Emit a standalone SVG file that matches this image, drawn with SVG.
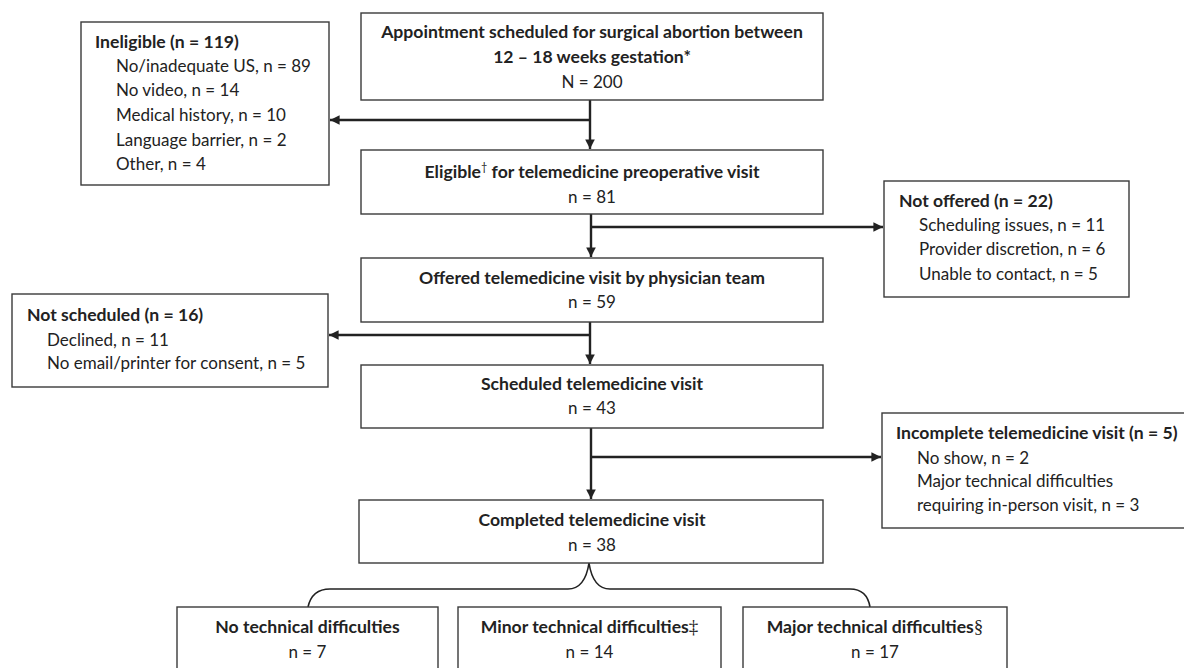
<svg xmlns="http://www.w3.org/2000/svg" width="1184" height="668" viewBox="0 0 1184 668">
<defs>
<style>
.box{fill:#fff;stroke:#3a3a3a;stroke-width:1.4}
.t{font-family:Lato,"Open Sans","Liberation Sans",sans-serif;font-size:17px;fill:#222}
.b{font-weight:bold;font-size:17.6px}
.c{text-anchor:middle}
.con{fill:none;stroke:#222;stroke-width:2.4}
.sym{font-family:"Liberation Serif","DejaVu Serif",serif;font-weight:normal}
</style>
<marker id="ah" viewBox="0 0 10 10" refX="10" refY="5" markerWidth="4" markerHeight="4" orient="auto" markerUnits="strokeWidth">
<path d="M0,0 L10,5 L0,10 z" fill="#222"/>
</marker>
</defs>
<rect width="1184" height="668" fill="#fff"/>
<g id="connectors">
<line class="con" x1="590" y1="100" x2="590" y2="149" marker-end="url(#ah)"/>
<line class="con" x1="590" y1="120" x2="330" y2="120" marker-end="url(#ah)"/>
<line class="con" x1="591" y1="214" x2="591" y2="257" marker-end="url(#ah)"/>
<line class="con" x1="591" y1="227" x2="883" y2="227" marker-end="url(#ah)"/>
<line class="con" x1="590" y1="322" x2="590" y2="364" marker-end="url(#ah)"/>
<line class="con" x1="590" y1="335" x2="329" y2="335" marker-end="url(#ah)"/>
<line class="con" x1="591" y1="428" x2="591" y2="499" marker-end="url(#ah)"/>
<line class="con" x1="591" y1="457" x2="881" y2="457" marker-end="url(#ah)"/>
<path d="M308,607 Q312,589 330,589 L568,589 Q585,589 589,563 Q593,589 610,589 L850,589 Q867,589 870,607" fill="none" stroke="#222" stroke-width="1.6"/>
</g>
<g id="n-start">
<rect class="box" x="361" y="13" width="462" height="87"/>
<text class="t b c" x="592" y="38">Appointment scheduled for surgical abortion between</text>
<text class="t b c" x="592" y="63">12 – 18 weeks gestation*</text>
<text class="t c" x="592" y="88">N = 200</text>
</g>
<g id="n-ineligible">
<rect class="box" x="81" y="22" width="248" height="163"/>
<text class="t b" x="95" y="48">Ineligible (n = 119)</text>
<text class="t" x="116" y="72">No/inadequate US, n = 89</text>
<text class="t" x="116" y="96">No video, n = 14</text>
<text class="t" x="116" y="121">Medical history, n = 10</text>
<text class="t" x="116" y="146">Language barrier, n = 2</text>
<text class="t" x="116" y="170">Other, n = 4</text>
</g>
<g id="n-eligible">
<rect class="box" x="361" y="150" width="462" height="64"/>
<text class="t b c" x="592" y="178">Eligible<tspan font-size="11" dy="-7" font-weight="normal">†</tspan><tspan dy="7"> for telemedicine preoperative visit</tspan></text>
<text class="t c" x="592" y="203">n = 81</text>
</g>
<g id="n-notoffered">
<rect class="box" x="884" y="181" width="245" height="116"/>
<text class="t b" x="899" y="207">Not offered (n = 22)</text>
<text class="t" x="919" y="231">Scheduling issues, n = 11</text>
<text class="t" x="919" y="255">Provider discretion, n = 6</text>
<text class="t" x="919" y="280">Unable to contact, n = 5</text>
</g>
<g id="n-offered">
<rect class="box" x="361" y="258" width="462" height="64"/>
<text class="t b c" x="592" y="284">Offered telemedicine visit by physician team</text>
<text class="t c" x="592" y="308">n = 59</text>
</g>
<g id="n-notscheduled">
<rect class="box" x="12" y="294" width="316" height="93"/>
<text class="t b" x="27" y="321">Not scheduled (n = 16)</text>
<text class="t" x="47" y="346">Declined, n = 11</text>
<text class="t" x="47" y="369">No email/printer for consent, n = 5</text>
</g>
<g id="n-scheduled">
<rect class="box" x="361" y="365" width="462" height="63"/>
<text class="t b c" x="592" y="390">Scheduled telemedicine visit</text>
<text class="t c" x="592" y="414">n = 43</text>
</g>
<g id="n-incomplete">
<rect class="box" x="882" y="413" width="305" height="115"/>
<text class="t b" x="896" y="439">Incomplete telemedicine visit (n = 5)</text>
<text class="t" x="917" y="464">No show, n = 2</text>
<text class="t" x="917" y="487">Major technical difficulties</text>
<text class="t" x="917" y="511">requiring in-person visit, n = 3</text>
</g>
<g id="n-completed">
<rect class="box" x="359" y="500" width="464" height="63"/>
<text class="t b c" x="592" y="526">Completed telemedicine visit</text>
<text class="t c" x="592" y="551">n = 38</text>
</g>
<g id="n-none">
<rect class="box" x="177" y="607" width="261" height="80"/>
<text class="t b c" x="307.5" y="633">No technical difficulties</text>
<text class="t c" x="307.5" y="658">n = 7</text>
</g>
<g id="n-minor">
<rect class="box" x="458" y="607" width="263" height="80"/>
<text class="t b c" x="589.5" y="633">Minor technical difficulties<tspan class="sym" font-size="19">‡</tspan></text>
<text class="t c" x="589.5" y="658">n = 14</text>
</g>
<g id="n-major">
<rect class="box" x="743" y="607" width="264" height="80"/>
<text class="t b c" x="875" y="633">Major technical difficulties<tspan class="sym" font-size="19">§</tspan></text>
<text class="t c" x="875" y="658">n = 17</text>
</g>
</svg>
